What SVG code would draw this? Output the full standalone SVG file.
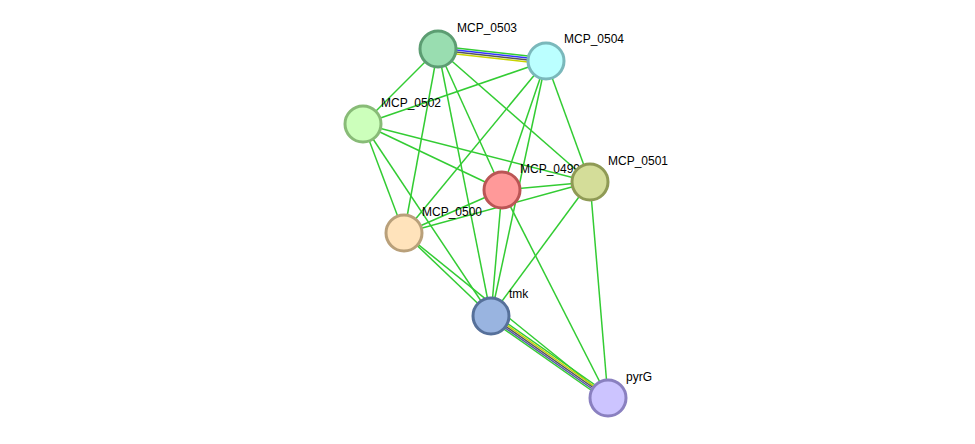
<svg xmlns="http://www.w3.org/2000/svg" width="975" height="444" viewBox="0 0 975 444">
<style>
.e{stroke:#33cc33;stroke-width:1.5;fill:none}
.n{stroke-width:3}
text{font-family:"Liberation Sans",Arial,sans-serif;font-size:12px;fill:#000}
</style>
<rect width="975" height="444" fill="#fff"/>
<g id="connectors">
<line class="e" x1="438" y1="46" x2="546" y2="58"/>
<line x1="438" y1="48" x2="546" y2="60" stroke="#3333ff" stroke-width="1.5"/>
<line x1="438" y1="50" x2="546" y2="62" stroke="#555" stroke-width="1.5"/>
<line x1="438" y1="52" x2="546" y2="64" stroke="#c8d400" stroke-width="1.5"/>
<line class="e" x1="438" y1="49" x2="363" y2="124"/>
<line class="e" x1="438" y1="49" x2="404" y2="233"/>
<line class="e" x1="438" y1="49" x2="491" y2="316"/>
<line class="e" x1="438" y1="49" x2="502" y2="190"/>
<line class="e" x1="438" y1="49" x2="590" y2="182"/>
<line class="e" x1="546" y1="61" x2="363" y2="124"/>
<line class="e" x1="546" y1="61" x2="404" y2="233"/>
<line class="e" x1="546" y1="61" x2="502" y2="190"/>
<line class="e" x1="546" y1="61" x2="491" y2="316"/>
<line class="e" x1="546" y1="61" x2="590" y2="182"/>
<line class="e" x1="363" y1="124" x2="404" y2="233"/>
<line class="e" x1="363" y1="124" x2="491" y2="316"/>
<line class="e" x1="363" y1="124" x2="502" y2="190"/>
<line class="e" x1="363" y1="124" x2="590" y2="182"/>
<line class="e" x1="502" y1="190" x2="590" y2="182"/>
<line class="e" x1="502" y1="190" x2="404" y2="233"/>
<line class="e" x1="502" y1="190" x2="491" y2="316"/>
<line class="e" x1="502" y1="190" x2="608" y2="398"/>
<line class="e" x1="590" y1="182" x2="404" y2="233"/>
<line class="e" x1="590" y1="182" x2="491" y2="316"/>
<line class="e" x1="590" y1="182" x2="608" y2="398"/>
<line class="e" x1="404" y1="233" x2="491" y2="316"/>
<line class="e" x1="404" y1="233" x2="608" y2="398"/>
<line class="e" x1="491" y1="312" x2="608" y2="394"/>
<line x1="491" y1="314" x2="608" y2="396" stroke="#c8d400" stroke-width="1.5"/>
<line x1="491" y1="316" x2="608" y2="398" stroke="#555" stroke-width="1.5"/>
<line x1="491" y1="318" x2="608" y2="400" stroke="#5555aa" stroke-width="1.5"/>
<line class="e" x1="491" y1="320" x2="608" y2="402"/>
</g>
<g id="MCP_0503"><circle class="n" cx="438" cy="49" r="18" fill="#99ddb0" stroke="#5c9d72"/><text x="457" y="32">MCP_0503</text></g>
<g id="MCP_0504"><circle class="n" cx="546" cy="61" r="18" fill="#bbffff" stroke="#7ab8bb"/><text x="564" y="43">MCP_0504</text></g>
<g id="MCP_0502"><circle class="n" cx="363" cy="124" r="18" fill="#ccffbb" stroke="#88bb77"/><text x="381" y="107">MCP_0502</text></g>
<g id="MCP_0499"><circle class="n" cx="502" cy="190" r="18" fill="#ff9999" stroke="#bb5555"/><text x="520" y="173">MCP_0499</text></g>
<g id="MCP_0501"><circle class="n" cx="590" cy="182" r="18" fill="#d4dd99" stroke="#8f9a55"/><text x="608" y="165">MCP_0501</text></g>
<g id="MCP_0500"><circle class="n" cx="404" cy="233" r="18" fill="#ffe3bb" stroke="#b9a07a"/><text x="422" y="216">MCP_0500</text></g>
<g id="tmk"><circle class="n" cx="491" cy="316" r="18" fill="#99b4e0" stroke="#56709a"/><text x="509" y="298">tmk</text></g>
<g id="pyrG"><circle class="n" cx="608" cy="398" r="18" fill="#ccc4ff" stroke="#8a80c0"/><text x="626" y="381">pyrG</text></g>
</svg>
